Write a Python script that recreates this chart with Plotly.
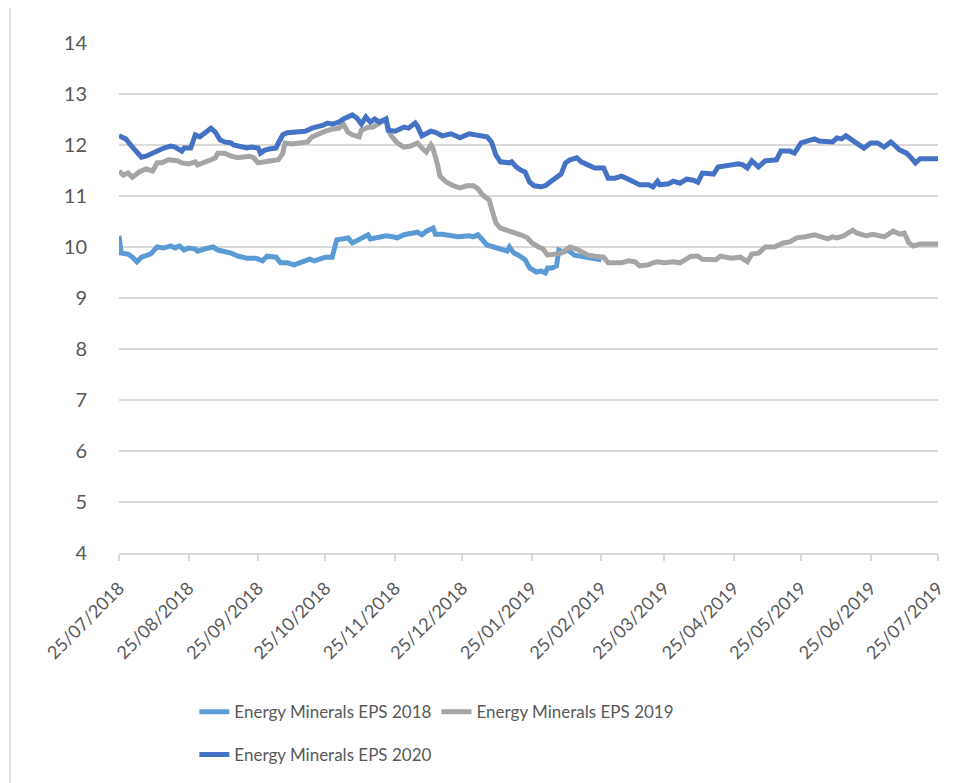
import pandas as pd
import plotly.graph_objects as go

START = "2018-07-25"

# day offsets from 25/07/2018 and values
days_2018 = [0, 1, 4, 6, 8, 10, 14, 17, 20, 23, 25, 27, 29, 31, 34, 35, 38, 42, 44, 46, 50, 53, 57, 61, 64, 66, 70, 72, 75, 78, 81, 83, 85, 87, 89, 92, 95, 97, 100, 102, 104, 108, 111, 112, 116, 119, 122, 124, 127, 130, 133, 135, 137, 140, 141, 144, 148, 151, 156, 158, 160, 162, 164, 167, 170, 173, 174, 176, 178, 181, 183, 186, 188, 190, 191, 193, 195, 196, 198, 200, 203, 207, 211, 215]
eps_2018 = [10.22, 9.88, 9.86, 9.80, 9.71, 9.80, 9.86, 10.00, 9.98, 10.02, 9.98, 10.02, 9.94, 9.98, 9.96, 9.92, 9.96, 10.00, 9.94, 9.92, 9.88, 9.82, 9.78, 9.78, 9.73, 9.82, 9.80, 9.69, 9.69, 9.65, 9.69, 9.71, 9.76, 9.73, 9.76, 9.80, 9.80, 10.14, 10.16, 10.18, 10.08, 10.18, 10.24, 10.16, 10.20, 10.22, 10.20, 10.18, 10.24, 10.27, 10.29, 10.24, 10.31, 10.37, 10.25, 10.25, 10.22, 10.20, 10.22, 10.20, 10.24, 10.14, 10.04, 10.00, 9.96, 9.92, 10.00, 9.88, 9.84, 9.75, 9.59, 9.51, 9.53, 9.49, 9.59, 9.59, 9.63, 9.94, 9.90, 9.94, 9.84, 9.80, 9.78, 9.75]

days_2019 = [0, 2, 4, 6, 9, 12, 15, 17, 19, 22, 26, 28, 31, 34, 35, 38, 41, 43, 44, 47, 50, 53, 55, 58, 60, 62, 65, 68, 71, 73, 74, 77, 81, 84, 86, 88, 92, 95, 98, 100, 102, 104, 107, 108, 111, 113, 116, 119, 120, 121, 124, 127, 130, 133, 135, 137, 139, 140, 142, 143, 146, 149, 152, 155, 158, 160, 162, 165, 166, 168, 170, 173, 176, 179, 182, 184, 187, 189, 191, 194, 197, 199, 201, 204, 207, 209, 212, 216, 218, 221, 224, 227, 230, 232, 236, 238, 240, 243, 247, 250, 253, 255, 258, 260, 266, 268, 273, 277, 280, 282, 285, 288, 292, 296, 299, 302, 306, 310, 313, 316, 318, 320, 323, 325, 327, 329, 333, 336, 341, 345, 348, 350, 352, 354, 357, 365]
eps_2019 = [11.49, 11.41, 11.45, 11.37, 11.47, 11.53, 11.49, 11.65, 11.65, 11.71, 11.69, 11.65, 11.63, 11.67, 11.61, 11.65, 11.71, 11.75, 11.84, 11.84, 11.78, 11.75, 11.76, 11.78, 11.75, 11.65, 11.67, 11.69, 11.71, 11.84, 12.04, 12.02, 12.04, 12.06, 12.16, 12.20, 12.27, 12.31, 12.33, 12.41, 12.25, 12.20, 12.16, 12.29, 12.35, 12.35, 12.43, 12.51, 12.33, 12.20, 12.04, 11.96, 11.98, 12.04, 11.94, 11.86, 12.00, 11.92, 11.61, 11.39, 11.27, 11.20, 11.16, 11.20, 11.20, 11.14, 11.02, 10.92, 10.76, 10.47, 10.37, 10.33, 10.27, 10.24, 10.18, 10.08, 10.00, 9.96, 9.84, 9.86, 9.88, 9.94, 10.00, 9.96, 9.88, 9.84, 9.82, 9.80, 9.69, 9.69, 9.69, 9.73, 9.71, 9.63, 9.65, 9.69, 9.71, 9.69, 9.71, 9.69, 9.78, 9.82, 9.82, 9.76, 9.75, 9.82, 9.78, 9.80, 9.71, 9.86, 9.88, 10.00, 10.00, 10.08, 10.10, 10.18, 10.20, 10.24, 10.20, 10.16, 10.20, 10.18, 10.22, 10.27, 10.33, 10.27, 10.22, 10.25, 10.20, 10.31, 10.25, 10.27, 10.08, 10.02, 10.06, 10.06]

days_2020 = [0, 3, 6, 10, 12, 15, 17, 20, 23, 25, 28, 29, 32, 34, 36, 38, 41, 43, 45, 47, 50, 51, 54, 57, 59, 62, 63, 65, 67, 70, 71, 73, 75, 79, 83, 86, 88, 91, 93, 95, 98, 100, 104, 106, 108, 110, 112, 114, 116, 119, 120, 123, 127, 129, 132, 133, 135, 139, 141, 144, 148, 152, 156, 161, 164, 166, 168, 170, 174, 175, 177, 179, 181, 183, 185, 188, 190, 192, 195, 197, 199, 201, 204, 206, 208, 212, 216, 218, 221, 224, 227, 229, 232, 236, 238, 240, 241, 245, 247, 250, 253, 256, 258, 260, 265, 267, 272, 276, 278, 280, 282, 285, 288, 293, 295, 299, 301, 304, 307, 310, 312, 316, 318, 320, 322, 324, 327, 332, 335, 338, 341, 344, 348, 351, 353, 355, 357, 365]
eps_2020 = [12.18, 12.12, 11.96, 11.76, 11.78, 11.84, 11.90, 11.94, 11.98, 11.96, 11.88, 11.94, 11.94, 12.20, 12.16, 12.24, 12.33, 12.25, 12.10, 12.06, 12.04, 12.00, 11.96, 11.94, 11.96, 11.94, 11.84, 11.90, 11.92, 11.94, 12.04, 12.20, 12.24, 12.25, 12.27, 12.33, 12.35, 12.39, 12.43, 12.41, 12.45, 12.51, 12.59, 12.53, 12.41, 12.55, 12.45, 12.51, 12.45, 12.51, 12.29, 12.27, 12.35, 12.33, 12.43, 12.37, 12.18, 12.27, 12.25, 12.18, 12.22, 12.14, 12.22, 12.18, 12.16, 12.06, 11.80, 11.67, 11.65, 11.67, 11.57, 11.51, 11.47, 11.27, 11.20, 11.18, 11.20, 11.27, 11.35, 11.43, 11.65, 11.71, 11.75, 11.67, 11.63, 11.55, 11.55, 11.35, 11.35, 11.39, 11.33, 11.29, 11.22, 11.22, 11.18, 11.29, 11.22, 11.24, 11.29, 11.25, 11.33, 11.31, 11.27, 11.45, 11.43, 11.57, 11.59, 11.63, 11.61, 11.55, 11.69, 11.57, 11.69, 11.71, 11.88, 11.88, 11.84, 12.04, 12.08, 12.12, 12.08, 12.08, 12.06, 12.14, 12.12, 12.18, 12.08, 11.94, 12.04, 12.04, 11.96, 12.06, 11.90, 11.84, 11.75, 11.65, 11.73, 11.73]

series_names = ["Energy Minerals EPS 2018", "Energy Minerals EPS 2019", "Energy Minerals EPS 2020"]
series_colors = ["#5B9BD5", "#A5A5A5", "#4472C4"]

tick_dates = ["2018-07-25", "2018-08-25", "2018-09-25", "2018-10-25", "2018-11-25", "2018-12-25",
              "2019-01-25", "2019-02-25", "2019-03-25", "2019-04-25", "2019-05-25", "2019-06-25", "2019-07-25"]
tick_labels = ["25/07/2018", "25/08/2018", "25/09/2018", "25/10/2018", "25/11/2018", "25/12/2018",
               "25/01/2019", "25/02/2019", "25/03/2019", "25/04/2019", "25/05/2019", "25/06/2019", "25/07/2019"]
y_ticks = [4, 5, 6, 7, 8, 9, 10, 11, 12, 13, 14]


def to_dates(days):
    return pd.Timestamp(START) + pd.to_timedelta(days, unit="D")


FONT = "Lato"
TXT = "#595959"
GRID = "#D9D9D9"

fig = go.Figure()
all_days = [days_2018, days_2019, days_2020]
all_vals = [eps_2018, eps_2019, eps_2020]
legends = ["legend", "legend", "legend2"]
for d, v, name, col, lg in zip(all_days, all_vals, series_names, series_colors, legends):
    fig.add_trace(go.Scatter(x=to_dates(d), y=v, mode="lines", name=name,
                             line=dict(color=col, width=5), legend=lg))

L, R, T, B = 111, 46, 35, 238
PW = 976 - L - R
PH = 783 - T - B

fig.update_layout(
    width=976, height=783,
    margin=dict(l=L, r=R, t=T, b=B),
    paper_bgcolor="white", plot_bgcolor="white",
    font=dict(family=FONT, size=17, color=TXT),
    xaxis=dict(
        type="date",
        range=[tick_dates[0], tick_dates[-1]],
        tickmode="array", tickvals=tick_dates, ticktext=tick_labels,
        tickangle=-45, showgrid=False,
        showline=True, linecolor=GRID, linewidth=1.5,
        ticks="outside", ticklen=6, tickcolor=GRID, tickwidth=1.5,
        ticklabelstandoff=10,
        tickfont=dict(family=FONT, size=18, color=TXT),
        zeroline=False,
    ),
    yaxis=dict(
        range=[4, 14], tickmode="array", tickvals=y_ticks,
        showgrid=True, gridcolor=GRID, gridwidth=1.5,
        showline=False, zeroline=False, ticks="",
        ticklabelstandoff=31,
        tickfont=dict(family=FONT, size=20, color=TXT),
    ),
    legend=dict(orientation="h", x=0.092, xanchor="left", y=-0.312, yanchor="middle",
                font=dict(family=FONT, size=17, color=TXT), bgcolor="rgba(0,0,0,0)"),
    legend2=dict(orientation="h", x=0.092, xanchor="left", y=-0.396, yanchor="middle",
                 font=dict(family=FONT, size=17, color=TXT), bgcolor="rgba(0,0,0,0)"),
    shapes=[dict(type="line", xref="paper", yref="paper",
                 x0=(2 - L) / PW, x1=(2 - L) / PW,
                 y0=-(B + 5) / PH, y1=(PH + T + 5) / PH,
                 line=dict(color=GRID, width=1.5), layer="below")],
)

fig.write_html("out.html")
